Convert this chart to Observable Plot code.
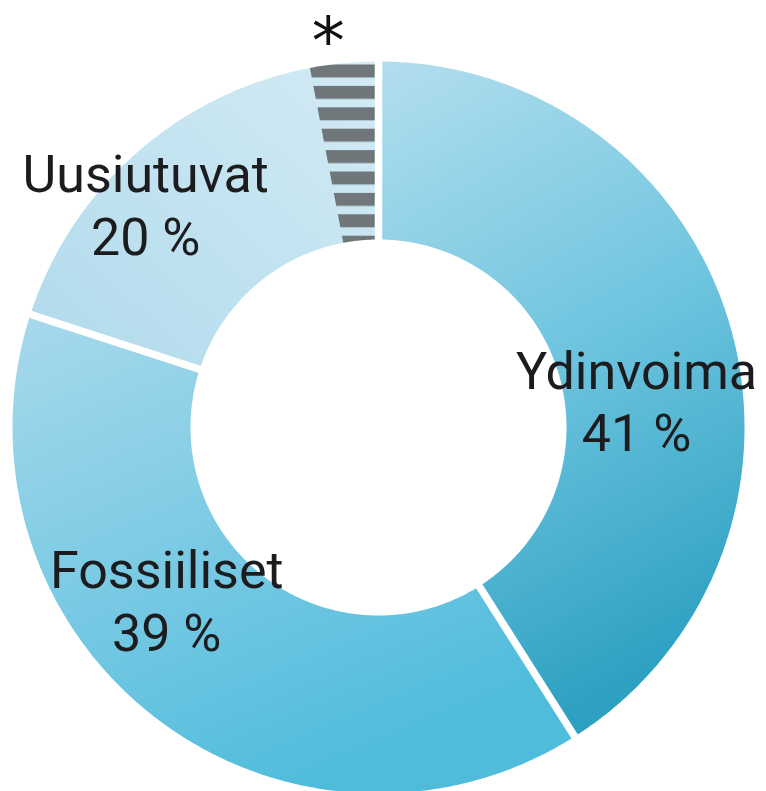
<!DOCTYPE html>
<html><head><meta charset="utf-8">
<script src="https://cdn.jsdelivr.net/npm/d3@7"></script>
<script src="https://cdn.jsdelivr.net/npm/@observablehq/plot@0.6"></script>
<style>html,body{margin:0;padding:0;background:#fff;} #chart svg{display:block}</style>
</head><body><div id="chart"></div>
<script>
// ---- data ----
const categories = ["Ydinvoima", "Fossiiliset", "Uusiutuvat"];
const shares = [41, 39, 20];
const shareLabels = ["41 %", "39 %", "20 %"];
const footnoteShare = 3;          // striped part at the end of "Uusiutuvat"
const footnoteMark = "*";

// ---- geometry helpers ----
const innerRatio = 188 / 366;
const arcs = d3.pie().sort(null).value(d => d)(shares);

function ring(a0, a1, r0, r1, key) {
  const n = Math.max(2, Math.ceil((a1 - a0) / (Math.PI / 360)));
  const pts = [];
  for (let i = 0; i <= n; i++) { const a = a0 + (a1 - a0) * i / n; pts.push({key, x: r1 * Math.sin(a), y: r1 * Math.cos(a)}); }
  for (let i = n; i >= 0; i--) { const a = a0 + (a1 - a0) * i / n; pts.push({key, x: r0 * Math.sin(a), y: r0 * Math.cos(a)}); }
  return pts;
}

const fills = ["url(#gYdin)", "url(#gFoss)", "url(#gUusi)"];
const sliceMarks = arcs.map((a, i) =>
  Plot.line(ring(a.startAngle, a.endAngle, innerRatio, 1, categories[i]), {x: "x", y: "y", fill: fills[i], stroke: "none"})
);

const fnEnd = 2 * Math.PI;
const fnStart = fnEnd - footnoteShare / 100 * 2 * Math.PI;
const stripeMark = Plot.line(ring(fnStart, fnEnd, innerRatio, 1, "fn"), {x: "x", y: "y", fill: "url(#stripes)", stroke: "none"});

const gaps = arcs.map(a => ({a: a.startAngle}));
const gapMark = Plot.link(gaps, {
  x1: d => (innerRatio - 0.03) * Math.sin(d.a), y1: d => (innerRatio - 0.03) * Math.cos(d.a),
  x2: d => 1.03 * Math.sin(d.a), y2: d => 1.03 * Math.cos(d.a),
  stroke: "white", strokeWidth: 7.5, strokeLinecap: "butt"
});

const rMid = (1 + innerRatio) / 2;
const labelOffsets = [[-8, 50], [-42, -47], [-70, 0]];
const labelMarks = arcs.map((a, i) => {
  const m = (a.startAngle + a.endAngle) / 2;
  return Plot.text([{x: rMid * Math.sin(m), y: rMid * Math.cos(m), t: categories[i] + "\n" + shareLabels[i]}], {
    x: "x", y: "y", text: "t", dx: labelOffsets[i][0], dy: labelOffsets[i][1],
    fontSize: 52, fontFamily: "Roboto", fill: "#1c1c1e", lineHeight: 1.2, textAnchor: "middle"
  });
});

const fnMid = (fnStart + fnEnd) / 2;
const asteriskMark = Plot.text([{x: 1.08 * Math.sin(fnMid), y: 1.08 * Math.cos(fnMid), t: footnoteMark}], {
  x: "x", y: "y", text: "t", dx: -13, dy: 9, fontSize: 66, fontFamily: "DejaVu Sans", fill: "#111"
});

const defs = () => {
  const d = d3.create("svg:defs");
  const grad = (id, x1, y1, x2, y2, stops) => {
    const g = d.append("linearGradient").attr("id", id).attr("x1", x1).attr("y1", y1).attr("x2", x2).attr("y2", y2);
    stops.forEach(([o, c]) => g.append("stop").attr("offset", o).attr("stop-color", c));
  };
  grad("gYdin", 0.1, 0, 0.4, 1, [[0, "#b0ddee"], [0.5, "#6fc5df"], [1, "#2ea1c2"]]);
  grad("gFoss", 0, 0, 0.5, 1, [[0, "#a9d9ec"], [1, "#4fbcdc"]]);
  grad("gUusi", 1, 0, 0, 1, [[0, "#d3ebf5"], [1, "#b0daeb"]]);
  const p = d.append("pattern").attr("id", "stripes").attr("patternUnits", "userSpaceOnUse")
    .attr("x", 0).attr("y", 64).attr("width", 766).attr("height", 21.4);
  p.append("rect").attr("width", 766).attr("height", 13).attr("fill", "#70777b");
  return d.node();
};

const chart = Plot.plot({
  width: 766, height: 791,
  marginLeft: 12, marginRight: 22, marginTop: 61, marginBottom: -2,
  x: {domain: [-1, 1], axis: null},
  y: {domain: [-1, 1], axis: null},
  style: {background: "white"},
  marks: [defs, ...sliceMarks, stripeMark, gapMark, ...labelMarks, asteriskMark]
});
document.getElementById("chart").appendChild(chart);
</script>
</body></html>
